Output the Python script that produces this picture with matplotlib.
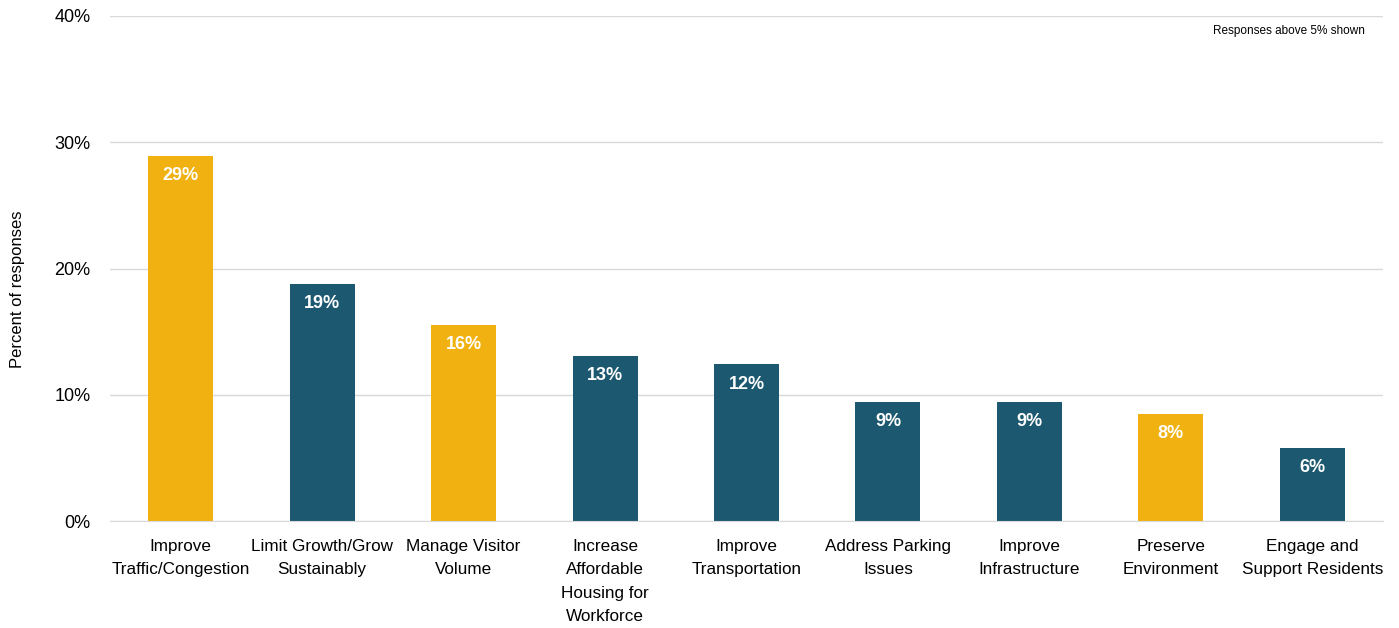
import matplotlib
matplotlib.use("Agg")
import matplotlib.pyplot as plt

categories = ["Improve\nTraffic/Congestion", "Limit Growth/Grow\nSustainably", "Manage Visitor\nVolume",
              "Increase\nAffordable\nHousing for\nWorkforce", "Improve\nTransportation", "Address Parking\nIssues",
              "Improve\nInfrastructure", "Preserve\nEnvironment", "Engage and\nSupport Residents"]
values = [28.9, 18.8, 15.5, 13.1, 12.4, 9.4, 9.4, 8.5, 5.8]
labels = ["29%", "19%", "16%", "13%", "12%", "9%", "9%", "8%", "6%"]
highlight = [True, False, True, False, False, False, False, True, False]
yticks = [0, 10, 20, 30, 40]
ytick_labels = ["0%", "10%", "20%", "30%", "40%"]

GOLD = "#F0B111"
TEAL = "#1C5870"

plt.rcParams['font.family'] = ["Liberation Sans", "DejaVu Sans"]

fig = plt.figure(figsize=(13.99, 6.28), dpi=100)
ax = fig.add_axes([110/1399, 107/628, 1273/1399, 505/628])

x = list(range(len(categories)))
colors = [GOLD if h else TEAL for h in highlight]
ax.bar(x, values, width=0.46, color=colors, zorder=3)
for xi, v, lab in zip(x, values, labels):
    ax.annotate(lab, (xi, v), xytext=(0, -8), textcoords="offset points", ha="center", va="top",
                color="white", fontsize=13, fontweight="bold", zorder=4)

ax.set_xlim(-0.5, len(categories) - 0.5)
ax.set_ylim(0, 40)
ax.set_yticks(yticks)
ax.set_yticklabels(ytick_labels, fontsize=13)
ax.set_xticks(x)
ax.set_xticklabels(categories, fontsize=12.3, linespacing=1.7)
ax.tick_params(axis="both", length=0, colors="#000000")
ax.tick_params(axis="y", pad=14)
ax.tick_params(axis="x", pad=13)
ax.grid(axis="y", color="#D9D9D9", linewidth=1, zorder=0)
for s in ["top", "right", "left"]:
    ax.spines[s].set_visible(False)
ax.spines["bottom"].set_color("#D9D9D9")
ax.spines["bottom"].set_zorder(5)
fig.text(18/1399, 1 - 289/628, "Percent of responses", rotation=90, ha="center", va="center", fontsize=12)
ax.text(0.9855, 0.982, "Responses above 5% shown", transform=ax.transAxes, ha="right", va="top", fontsize=8.5)

fig.savefig("out.png", dpi=100)
